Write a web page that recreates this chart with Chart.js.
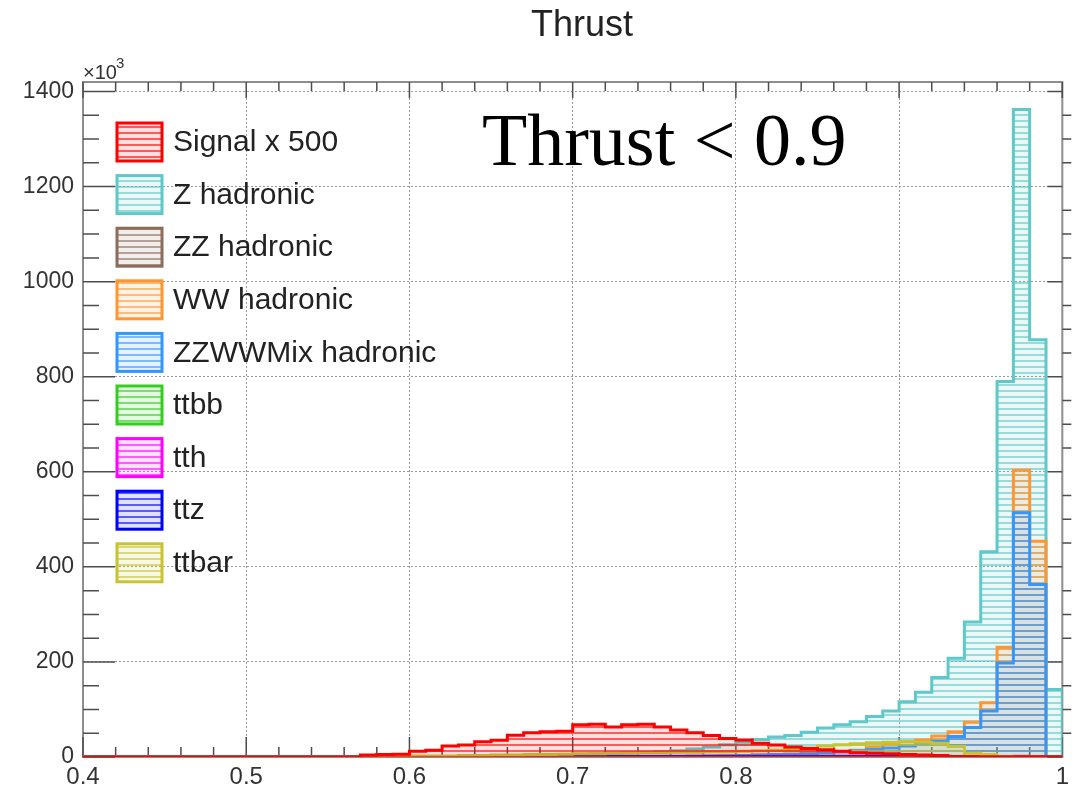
<!DOCTYPE html>
<html>
<head>
<meta charset="utf-8">
<title>Thrust</title>
<script src="https://cdn.jsdelivr.net/npm/chart.js@4.4.1/dist/chart.umd.min.js"></script>
<style>
  html, body { margin: 0; padding: 0; background: #ffffff; }
  canvas { display: block; }
</style>
</head>
<body>
<canvas id="thrust" width="1075" height="794"></canvas>
<script>
// thrust histogram, 60 bins of 0.01 from 0.40 to 1.00 (entries x10^3)
const binEdges = Array.from({ length: 61 }, (_, i) => +(0.40 + 0.01 * i).toFixed(2));

const signal = [
  0, 0, 0, 0, 0, 0, 0, 0, 0, 0,
  0, 0, 0, 0, 0, 0, 0, 4, 5, 6,
  12, 14, 23, 25, 32, 35, 46, 51, 53, 54,
  68, 69, 63, 68, 69, 63, 57, 51, 45, 39,
  36, 29, 25, 21, 18, 15, 12, 9, 8, 7,
  5, 4, 3, 1, 0.5, 0.5, 0.5, 0.5, 0.5, 0.5
];
const zHadronic = [
  0, 0, 0, 0, 0, 0, 0, 0, 0, 0,
  0, 0, 0, 0, 0, 0, 0, 0, 0, 0,
  0, 0, 0, 0, 0, 1, 2, 3, 4, 5,
  6, 7, 8, 9, 10, 11, 13, 17, 21, 26,
  31, 37, 42, 45, 52, 61, 68, 74, 85, 97,
  116, 136, 167, 208, 284, 432, 790, 1362, 878, 142
];
const zzHadronic = [
  0, 0, 0, 0, 0, 0, 0, 0, 0, 0,
  0, 0, 0, 0, 0, 0, 0, 0, 0, 0,
  0, 0, 0, 0, 0, 0, 0, 0, 0, 0,
  0, 0, 0, 0, 0, 0, 0, 0, 0, 0,
  0, 0, 0, 0, 0, 0, 0, 0, 0, 0,
  0, 0, 0, 0, 0, 1, 1, 1.5, 1, 0
];
const wwHadronic = [
  0, 0, 0, 0, 0, 0, 0, 0, 0, 0,
  0, 0, 0, 0, 0, 0, 0, 0, 0, 0,
  0, 0, 0, 0, 0, 0, 0, 0, 0, 0,
  0, 0, 0, 0, 0, 1, 1, 2, 2, 3,
  3, 4, 5, 6, 7, 9, 11, 14, 20, 27,
  32, 36, 44, 53, 73, 114, 231, 603, 454, 0
];
const zzwwMix = [
  0, 0, 0, 0, 0, 0, 0, 0, 0, 0,
  0, 0, 0, 0, 0, 0, 0, 0, 0, 0,
  0, 0, 0, 0, 0, 0, 0, 0, 0, 0,
  0, 0, 0, 0, 0, 0, 1, 1, 2, 2,
  3, 4, 5, 6, 7, 9, 11, 13, 16, 19,
  23, 27, 33, 43, 62, 97, 198, 514, 363, 0
];
const ttbb = [
  0, 0, 0, 0, 0, 0, 0, 0, 0, 0,
  0, 0, 0, 0, 0, 0, 0, 0, 0, 0,
  0, 0, 0, 0, 0, 0, 0, 0, 0, 0,
  0, 0, 0, 0.5, 0.5, 0.5, 0.5, 0.5, 0.5, 0.5,
  0.5, 0.5, 0.5, 0.5, 0.5, 0.5, 0.5, 0.5, 0.5, 0.5,
  0.5, 0, 0, 0, 0, 0, 0, 0, 0, 0
];
const tth = [
  0, 0, 0, 0, 0, 0, 0, 0, 0, 0,
  0, 0, 0, 0, 0, 0, 0, 0, 0, 0,
  0, 0, 0, 0, 0, 0, 0, 0, 0, 1,
  1.5, 1.5, 1.5, 1.5, 1.5, 1.5, 1.5, 1.5, 1.5, 1.5,
  1.5, 1.5, 1.5, 1.5, 1.5, 1.5, 1.5, 1.5, 1.5, 1.5,
  1.5, 1.5, 1, 0, 0, 0, 0, 0, 0, 0
];
const ttz = [
  0, 0, 0, 0, 0, 0, 0, 0, 0, 0,
  0, 0, 0, 0, 0, 0, 0, 0, 0, 0,
  0, 0, 0, 0, 0, 0, 0, 0, 0, 1,
  1, 1, 1, 1, 1, 1, 1, 1, 1, 1,
  1, 1, 1, 1, 1, 1, 1, 1, 1, 1,
  1, 1, 1, 0, 0, 0, 0, 0, 0, 0
];
const ttbar = [
  0, 0, 0, 0, 0, 0, 0, 0, 0, 0,
  0, 0, 0, 0, 0, 0, 0, 1, 1, 1,
  2, 2, 2, 3, 3, 4, 4, 5, 5, 6,
  7, 7, 8, 8, 9, 9, 10, 10, 11, 11,
  12, 13, 14, 16, 19, 23, 26, 28, 30, 31,
  32, 31, 29, 22, 8, 5, 1, 0, 0, 0
];

const seriesNames = ['Signal x 500', 'Z hadronic', 'ZZ hadronic', 'WW hadronic',
  'ZZWWMix hadronic', 'ttbb', 'tth', 'ttz', 'ttbar'];
const seriesValues = [signal, zHadronic, zzHadronic, wwHadronic, zzwwMix, ttbb, tth, ttz, ttbar];

const xTicks = [0.4, 0.5, 0.6, 0.7, 0.8, 0.9, 1.0];
const xTickLabels = ['0.4', '0.5', '0.6', '0.7', '0.8', '0.9', '1'];
const yTicks = [0, 200, 400, 600, 800, 1000, 1200, 1400];
const yTickLabels = ['0', '200', '400', '600', '800', '1000', '1200', '1400'];

// line colours (rgb) and stacking order: lower order is painted on top
const lineRgb = [
  [255, 0, 0], [95, 200, 200], [140, 108, 92], [255, 150, 50],
  [50, 150, 255], [50, 205, 30], [255, 0, 255], [0, 0, 255], [200, 195, 50]
];
const drawOrder = [0, 8, 6, 7, 5, 4, 3, 2, 1];

const canvas = document.getElementById('thrust');
const ctx = canvas.getContext('2d');

// horizontal hatch, same phase for every histogram
function hatch([r, g, b]) {
  const tile = document.createElement('canvas');
  tile.width = 8;
  tile.height = 6;
  const t = tile.getContext('2d');
  t.fillStyle = `rgba(${r},${g},${b},0.12)`;
  t.fillRect(0, 0, 8, 6);
  t.fillStyle = `rgba(${r},${g},${b},0.6)`;
  t.fillRect(0, 0, 8, 2);
  return ctx.createPattern(tile, 'repeat');
}

function stepPoints(values) {
  const pts = [{ x: binEdges[0], y: 0 }];
  values.forEach((v, i) => pts.push({ x: binEdges[i], y: v }));
  pts.push({ x: binEdges[binEdges.length - 1], y: 0 });
  return pts;
}

const fills = lineRgb.map(hatch);
const datasets = seriesNames.map((name, i) => ({
  label: name,
  data: stepPoints(seriesValues[i]),
  stepped: true,
  borderColor: `rgb(${lineRgb[i].join(',')})`,
  backgroundColor: fills[i],
  borderWidth: 3,
  pointRadius: 0,
  fill: 'origin',
  order: drawOrder[i]
}));

const font = '"Liberation Sans", Arial, Helvetica, sans-serif';

// frame with inward ticks on four sides, minor ticks every 0.02 / 50
const rootFrame = {
  id: 'rootFrame',
  beforeDatasetsDraw(chart) {
    const { ctx, chartArea: a, scales: { x, y } } = chart;
    ctx.save();
    ctx.strokeStyle = '#8e8e8e';
    ctx.lineWidth = 2;
    ctx.strokeRect(a.left, a.top, a.right - a.left, a.bottom - a.top);
    ctx.strokeStyle = '#4d4d4d';
    ctx.lineWidth = 1.5;
    ctx.beginPath();
    for (let k = 0; k <= 30; k++) {
      const px = x.getPixelForValue(0.4 + k * 0.02);
      const major = k % 5 === 0;
      ctx.moveTo(px, a.bottom);
      ctx.lineTo(px, a.bottom - (major ? 20 : 10));
      ctx.moveTo(px, a.top);
      ctx.lineTo(px, a.top + (major ? 16 : 9));
    }
    for (let v = 0; v <= 1400; v += 50) {
      const py = y.getPixelForValue(v);
      const major = v % 200 === 0;
      ctx.moveTo(a.left, py);
      ctx.lineTo(a.left + (major ? 32 : 16), py);
      ctx.moveTo(a.right, py);
      ctx.lineTo(major ? a.right - 15 : a.right + 9, py);
    }
    ctx.stroke();
    ctx.restore();
  }
};

// title, legend boxes, exponent label and cut text
const overlay = {
  id: 'overlay',
  afterDraw(chart) {
    const { ctx, chartArea: a } = chart;
    ctx.save();
    ctx.fillStyle = '#222';
    ctx.font = `36px ${font}`;
    ctx.textAlign = 'center';
    ctx.textBaseline = 'middle';
    ctx.fillText('Thrust', 582, 26);

    seriesNames.forEach((name, i) => {
      const cy = 142 + i * 52.6;
      ctx.fillStyle = fills[i];
      ctx.fillRect(117, cy - 19, 45, 38);
      ctx.strokeStyle = `rgb(${lineRgb[i].join(',')})`;
      ctx.lineWidth = 3;
      ctx.strokeRect(117, cy - 19, 45, 38);
      ctx.fillStyle = '#222';
      ctx.font = `30px ${font}`;
      ctx.textBaseline = 'middle';
      ctx.textAlign = 'left';
      ctx.fillText(name, 173, cy + 1);
    });

    ctx.fillStyle = '#333';
    ctx.textBaseline = 'alphabetic';
    ctx.font = `20px ${font}`;
    ctx.fillText('\u00d710', a.left, 79);
    ctx.font = `15px ${font}`;
    ctx.fillText('3', a.left + 33, 68);

    ctx.fillStyle = '#000';
    ctx.font = '74px "Liberation Serif", "Times New Roman", serif';
    ctx.fillText('Thrust < 0.9', 482, 165);
    ctx.restore();
  }
};

new Chart(ctx, {
  type: 'line',
  data: { datasets },
  options: {
    responsive: false,
    devicePixelRatio: 1,
    animation: false,
    layout: { padding: { left: 0, right: 12, top: 82, bottom: 0 } },
    plugins: {
      legend: { display: false },
      tooltip: { enabled: false },
      title: { display: false }
    },
    scales: {
      x: {
        type: 'linear',
        min: 0.4,
        max: 1.0,
        afterBuildTicks: s => { s.ticks = xTicks.map(v => ({ value: v })); },
        afterFit: s => { s.height = 37; },
        border: { display: false, dash: [2, 2] },
        grid: { color: '#9a9a9a', lineWidth: 1, drawTicks: false },
        ticks: {
          padding: 6,
          color: '#333',
          font: { family: font, size: 24 },
          maxRotation: 0,
          callback: (v, i) => xTickLabels[i]
        }
      },
      y: {
        type: 'linear',
        min: 0,
        max: 1420,
        afterBuildTicks: s => { s.ticks = yTicks.map(v => ({ value: v })); },
        afterFit: s => { s.width = 83; },
        border: { display: false, dash: [2, 2] },
        grid: { color: '#9a9a9a', lineWidth: 1, drawTicks: false },
        ticks: {
          padding: 9,
          color: '#333',
          font: { family: font, size: 23 },
          callback: (v, i) => yTickLabels[i]
        }
      }
    }
  },
  plugins: [rootFrame, overlay]
});
</script>
</body>
</html>
